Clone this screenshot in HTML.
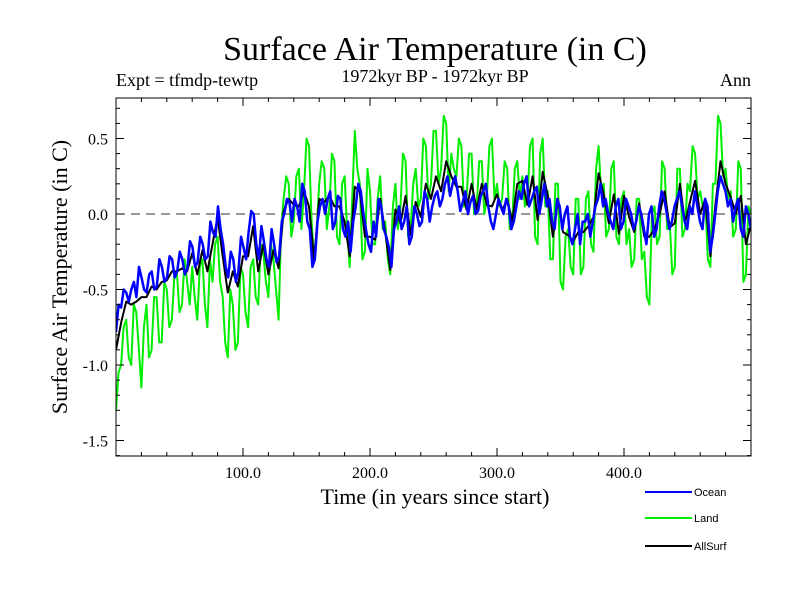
<!DOCTYPE html>
<html><head><meta charset="utf-8"><style>
body{margin:0;background:#fff;width:800px;height:600px;overflow:hidden}
svg{display:block}
</style></head><body>
<svg id="chart" width="800" height="600" font-family="Liberation Serif, serif">
<defs><clipPath id="clip"><rect x="116" y="98" width="635" height="358"/></clipPath></defs>
<text x="435" y="60" font-size="34" text-anchor="middle">Surface Air Temperature (in C)</text>
<text x="116" y="86" font-size="18">Expt = tfmdp-tewtp</text>
<text x="435" y="82" font-size="18" text-anchor="middle">1972kyr BP - 1972kyr BP</text>
<text x="751" y="86" font-size="18" text-anchor="end">Ann</text>
<text x="435" y="504" font-size="22" text-anchor="middle">Time (in years since start)</text>
<text transform="translate(67,277) rotate(-90)" font-size="22" text-anchor="middle">Surface Air Temperature (in C)</text>
<g id="plot" clip-path="url(#clip)"></g>
<g id="axes"></g>
<g font-family="Liberation Sans, sans-serif" font-size="11">
<g><line x1="645" y1="492" x2="692" y2="492" stroke="#0000ff" stroke-width="2"/><text x="694" y="496">Ocean</text></g>
<g><line x1="645" y1="518" x2="692" y2="518" stroke="#00ee00" stroke-width="2"/><text x="694" y="522">Land</text></g>
<g><line x1="645" y1="546" x2="692" y2="546" stroke="#000" stroke-width="2"/><text x="694" y="550">AllSurf</text></g>
</g>
</svg>
<script>
const ocean=[-0.78,-0.6,-0.62,-0.5,-0.52,-0.58,-0.5,-0.45,-0.55,-0.35,-0.42,-0.5,-0.52,-0.4,-0.38,-0.5,-0.48,-0.3,-0.35,-0.45,-0.42,-0.28,-0.3,-0.42,-0.38,-0.25,-0.3,-0.4,-0.36,-0.18,-0.22,-0.35,-0.32,-0.15,-0.2,-0.3,-0.28,-0.05,-0.12,-0.15,0.05,-0.1,-0.2,-0.35,-0.42,-0.25,-0.3,-0.45,-0.38,-0.15,-0.22,-0.3,-0.12,0.02,0.0,-0.2,-0.3,-0.08,-0.18,-0.3,-0.35,-0.1,-0.2,-0.32,-0.28,-0.05,0.0,0.1,0.08,-0.05,0.1,0.05,-0.05,0.2,0.15,-0.05,-0.1,-0.35,-0.3,-0.05,0.05,0.1,0.0,0.1,0.15,-0.1,-0.05,0.12,0.1,-0.1,-0.15,-0.05,-0.25,-0.05,0.05,0.2,0.15,0.0,-0.1,-0.2,-0.25,-0.05,-0.15,0.1,0.05,-0.1,-0.15,-0.22,-0.35,-0.1,-0.05,0.05,-0.1,-0.05,0.05,-0.2,-0.15,0.05,0.0,-0.08,-0.05,0.15,0.1,-0.05,0.05,0.12,0.15,0.05,0.1,0.2,0.25,0.12,0.2,0.25,0.15,0.02,0.08,0.15,0.0,0.08,0.12,0.0,0.02,0.12,0.15,0.2,0.05,-0.05,-0.1,0.0,0.1,0.05,0.0,0.1,0.05,-0.1,-0.05,0.05,0.15,0.1,0.2,0.25,0.05,0.1,0.15,0.18,0.0,0.1,0.2,0.05,0.1,-0.05,-0.1,0.1,0.05,-0.1,0.0,0.05,-0.15,-0.2,-0.1,0.0,-0.2,-0.05,-0.05,0.0,-0.15,-0.05,0.05,0.1,0.2,0.05,0.1,0.0,-0.05,-0.1,0.05,0.1,-0.1,-0.05,0.1,0.05,0.0,-0.1,-0.05,0.05,0.0,-0.1,-0.2,0.0,0.05,-0.15,-0.1,0.05,0.15,0.1,0.0,-0.1,-0.05,0.05,0.1,0.15,0.05,-0.05,-0.1,0.05,0.0,0.15,0.05,-0.05,-0.1,0.1,0.05,-0.25,-0.15,0.0,0.15,0.25,0.2,0.15,0.05,0.1,-0.05,0.05,0.1,-0.1,-0.15,0.05,0.0,-0.1];
const land=[-1.3,-1.05,-1.0,-0.75,-0.7,-0.95,-1.0,-0.6,-0.65,-0.9,-1.15,-0.75,-0.6,-0.95,-0.9,-0.55,-0.55,-0.85,-0.85,-0.45,-0.5,-0.75,-0.7,-0.4,-0.4,-0.65,-0.6,-0.3,-0.45,-0.6,-0.35,-0.55,-0.7,-0.35,-0.3,-0.6,-0.75,-0.3,-0.45,-0.2,-0.15,-0.45,-0.55,-0.85,-0.95,-0.5,-0.6,-0.9,-0.85,-0.35,-0.4,-0.65,-0.75,-0.35,-0.3,-0.55,-0.6,-0.2,-0.25,-0.45,-0.55,-0.2,-0.3,-0.5,-0.7,-0.1,0.1,0.25,0.2,-0.15,-0.05,0.25,0.3,-0.1,0.15,0.5,0.45,-0.05,-0.3,-0.1,0.2,0.35,0.3,-0.1,0.05,0.4,0.35,-0.15,-0.2,0.2,0.25,-0.1,-0.35,0.1,0.55,0.3,0.2,-0.3,-0.25,0.3,0.15,-0.2,-0.2,0.1,0.25,-0.1,-0.05,-0.3,-0.4,0.05,0.2,-0.1,0.05,0.4,0.35,-0.15,-0.1,0.2,0.3,0.05,0.1,0.5,0.45,0.1,0.2,0.55,0.55,0.2,0.3,0.65,0.6,0.15,0.4,0.3,0.25,0.5,0.45,0.05,0.1,0.4,0.4,0.0,0.05,0.35,0.35,0.0,0.1,0.45,0.5,0.1,0.2,0.05,0.1,0.35,0.3,-0.1,-0.05,0.3,0.35,0.1,0.25,0.05,0.1,0.45,0.5,-0.15,-0.2,0.4,0.5,0.05,0.15,-0.3,-0.3,0.2,0.2,-0.45,-0.5,-0.15,-0.1,-0.35,-0.4,0.1,0.1,-0.4,-0.35,0.1,0.15,-0.2,-0.25,0.3,0.45,0.15,0.2,-0.15,-0.1,0.3,0.35,-0.15,-0.2,0.1,0.15,-0.2,-0.1,-0.35,-0.3,0.1,0.1,-0.3,-0.25,-0.55,-0.6,0.0,0.05,-0.2,-0.15,0.35,0.3,-0.1,-0.05,-0.4,-0.35,0.3,0.3,-0.15,-0.1,0.2,0.15,0.45,0.4,0.1,0.15,0.05,0.1,-0.3,-0.35,0.2,0.2,0.65,0.6,0.25,0.3,0.1,0.15,-0.15,-0.1,0.35,0.3,-0.45,-0.4,0.05,0.0];
const allsurf=[-0.9,-0.72,-0.58,-0.6,-0.58,-0.55,-0.55,-0.48,-0.5,-0.45,-0.44,-0.38,-0.38,-0.36,-0.38,-0.26,-0.4,-0.24,-0.38,-0.2,-0.02,-0.28,-0.52,-0.38,-0.48,-0.28,-0.28,-0.08,-0.38,-0.2,-0.4,-0.24,-0.36,0.02,0.1,0.06,0.05,0.15,0.05,-0.3,0.1,0.08,0.12,0.05,0.05,-0.05,-0.28,0.18,0.15,-0.15,-0.15,-0.17,0.1,-0.12,-0.37,0.03,-0.06,0.12,-0.14,0.08,-0.02,0.2,0.1,0.25,0.15,0.35,0.25,0.18,0.18,0.03,0.2,0.03,0.2,0.06,0.05,0.13,0.02,0.1,-0.05,0.2,0.22,0.06,0.25,-0.04,0.28,0.12,-0.15,0.1,-0.12,-0.14,-0.18,-0.12,-0.12,-0.08,-0.02,0.27,0.13,-0.06,0.13,-0.13,0.12,-0.02,-0.12,0.07,-0.15,-0.15,-0.1,0.0,0.15,-0.09,-0.06,0.2,-0.06,0.08,0.22,0.0,0.1,-0.28,0.06,0.35,0.2,0.11,0.0,0.12,-0.2,-0.07];
const yTicks=[-1.5,-1.0,-0.5,0.0,0.5];
const xTicks=[100,200,300,400];
const X0=116,X1=751,Y0=98,Y1=456;
const xs=v=>X0+(v/500)*(X1-X0);
const ys=v=>214-v*151;
const NS='http://www.w3.org/2000/svg';
const plot=document.getElementById('plot'),axes=document.getElementById('axes');
function mk(tag,attrs,parent){const e=document.createElementNS(NS,tag);for(const k in attrs)e.setAttribute(k,attrs[k]);parent.appendChild(e);return e;}
const zl=mk('line',{x1:X0,x2:X1,y1:ys(0),y2:ys(0),stroke:'#333','stroke-dasharray':'9,6','stroke-width':1},plot);


function series(vals,color,name,w){
  const n=vals.length;
  const d=vals.map((v,i)=>(i?'L':'M')+xs(i*500/(n-1)).toFixed(1)+','+ys(v).toFixed(1)).join('');
  const p=mk('path',{d:d,fill:'none',stroke:color,'stroke-width':w,'stroke-linejoin':'round'},plot);
  
  
}
series(land,'#00ee00','land-line',2);
series(allsurf,'#000000','allsurf-line',2);
series(ocean,'#0000ff','ocean-line',2.5);
const fr=mk('rect',{x:X0,y:Y0,width:X1-X0,height:Y1-Y0,fill:'none',stroke:'#000','stroke-width':1},axes);


for(let yr=20;yr<500;yr+=20){const maj=yr%100===0,l=maj?8:4,x=xs(yr);
  mk('line',{x1:x,x2:x,y1:Y1,y2:Y1-l,stroke:'#000'},axes);mk('line',{x1:x,x2:x,y1:Y0,y2:Y0+l,stroke:'#000'},axes);}
for(let k=-16;k<=7;k++){const v=k/10,y=ys(v);if(y<Y0||y>Y1)continue;const maj=k%5===0,l=maj?8:4;
  mk('line',{x1:X0,x2:X0+l,y1:y,y2:y,stroke:'#000'},axes);mk('line',{x1:X1,x2:X1-l,y1:y,y2:y,stroke:'#000'},axes);}
xTicks.forEach(v=>{const t=mk('text',{x:xs(v),y:Y1+22,'font-size':16,'text-anchor':'middle'},axes);t.textContent=v.toFixed(1);
  
  });
yTicks.forEach(v=>{const t=mk('text',{x:X0-8,y:ys(v)+6,'font-size':16,'text-anchor':'end'},axes);t.textContent=v.toFixed(1);
  
  });
</script>
</body></html>
